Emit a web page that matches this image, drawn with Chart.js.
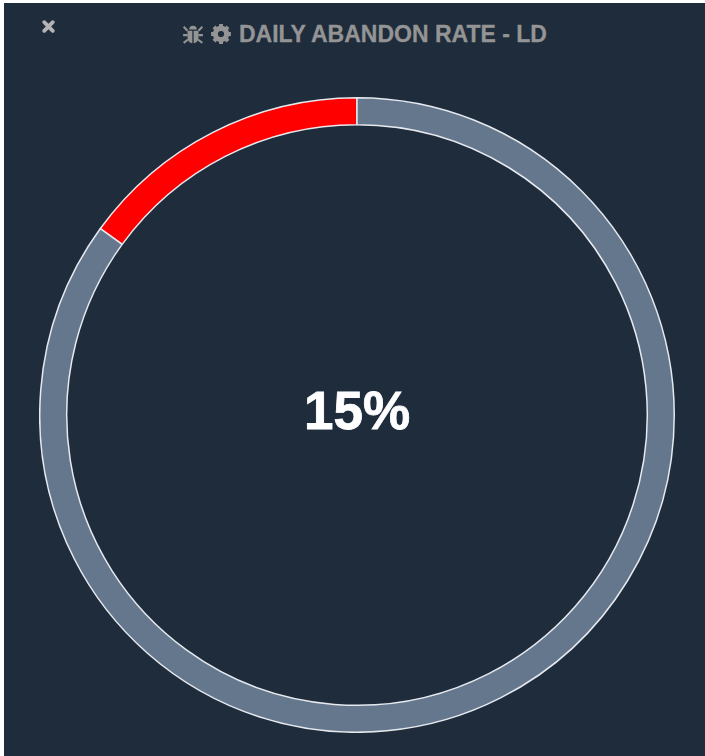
<!DOCTYPE html>
<html>
<head>
<meta charset="utf-8">
<title>Daily Abandon Rate - LD</title>
<script src="https://cdn.jsdelivr.net/npm/chart.js@4"></script>
<style>
    html, body { margin: 0; padding: 0; background: #fff; }
    #panel { position: absolute; left: 4px; top: 3px; width: 701px; height: 753px; background: #1e2c3c; overflow: hidden; }
    #close { position: absolute; left: 37px; top: 16px; width: 15px; height: 15px; }
    #heading { position: absolute; left: 178px; top: 19px; height: 24px; display: flex; align-items: center; white-space: nowrap;
        font: bold 23px "Liberation Sans", sans-serif; color: #949494; -webkit-text-stroke: 0.3px #949494; }
    #heading svg { width: 22px; height: 22px; margin-right: 6px; flex: none; }
    #heading span { margin-left: 1px; }
    #wrap { position: absolute; left: 35px; top: 94px; width: 636px; height: 636px; }
</style>
</head>
<body>
<div id="panel">
    <svg id="close" viewBox="0 0 14 14"><path d="M3 3 L11 11 M11 3 L3 11" stroke="#b4b4b4" stroke-width="3.6" stroke-linecap="round"/></svg>
    <div id="heading">
        <svg viewBox="0 0 20 20" fill="#949494">
            <path d="M6.5 6 A3.5 3.5 0 0 1 13.5 6 Z"/>
            <path d="M5 7 H9.4 V18.5 C7 18.3 5 16 5 13 Z M10.6 7 H15 V13 C15 16 13 18.3 10.6 18.5 Z"/>
            <path d="M1.5 3.5 L5 7 M18.5 3.5 L15 7 M1 11 H5 M19 11 H15 M1.5 18 L5.5 15 M18.5 18 L14.5 15" stroke="#949494" stroke-width="1.9" fill="none"/>
        </svg>
        <svg viewBox="0 0 20 20">
            <circle cx="10" cy="10" r="5.2" fill="none" stroke="#949494" stroke-width="4.6"/>
            <path d="M10 1 V19 M1 10 H19 M3.6 3.6 L16.4 16.4 M16.4 3.6 L3.6 16.4" stroke="#949494" stroke-width="3.6"/>
            <circle cx="10" cy="10" r="2.8" fill="#1e2c3c"/>
        </svg>
        <span>DAILY ABANDON RATE - LD</span>
    </div>
    <div id="wrap"><canvas id="gauge"></canvas></div>
</div>
<script>
    const categories = ['Abandoned', 'Remaining'];
    const rateValues = [15, 85];
    const centerLabel = '15%';

    // draws the percentage in the middle of the ring
    const centerText = {
        id: 'centerText',
        afterDraw(chart) {
            const meta = chart.getDatasetMeta(0).data[0];
            const ctx = chart.ctx;
            ctx.save();
            ctx.font = 'bold 53px "Liberation Sans", sans-serif';
            ctx.fillStyle = '#ffffff';
            ctx.strokeStyle = '#ffffff';
            ctx.lineWidth = 0.8;
            ctx.textAlign = 'center';
            ctx.textBaseline = 'middle';
            ctx.fillText(centerLabel, meta.x, meta.y - 1);
            ctx.strokeText(centerLabel, meta.x, meta.y - 1);
            ctx.restore();
        }
    };

    const gaugeCtx = document.getElementById('gauge').getContext('2d');
    new Chart(gaugeCtx, {
        type: 'doughnut',
        data: {
            labels: categories,
            datasets: [{
                data: rateValues,
                backgroundColor: ['#ff0000', '#64778d'],
                borderColor: '#e6e9ee',
                borderWidth: 1.5
            }]
        },
        options: {
            responsive: true,
            maintainAspectRatio: false,
            animation: false,
            cutout: '91.5%',
            rotation: -54,
            layout: { padding: 0 },
            plugins: {
                legend: { display: false },
                tooltip: { enabled: false }
            }
        },
        plugins: [centerText]
    });
</script>
</body>
</html>
